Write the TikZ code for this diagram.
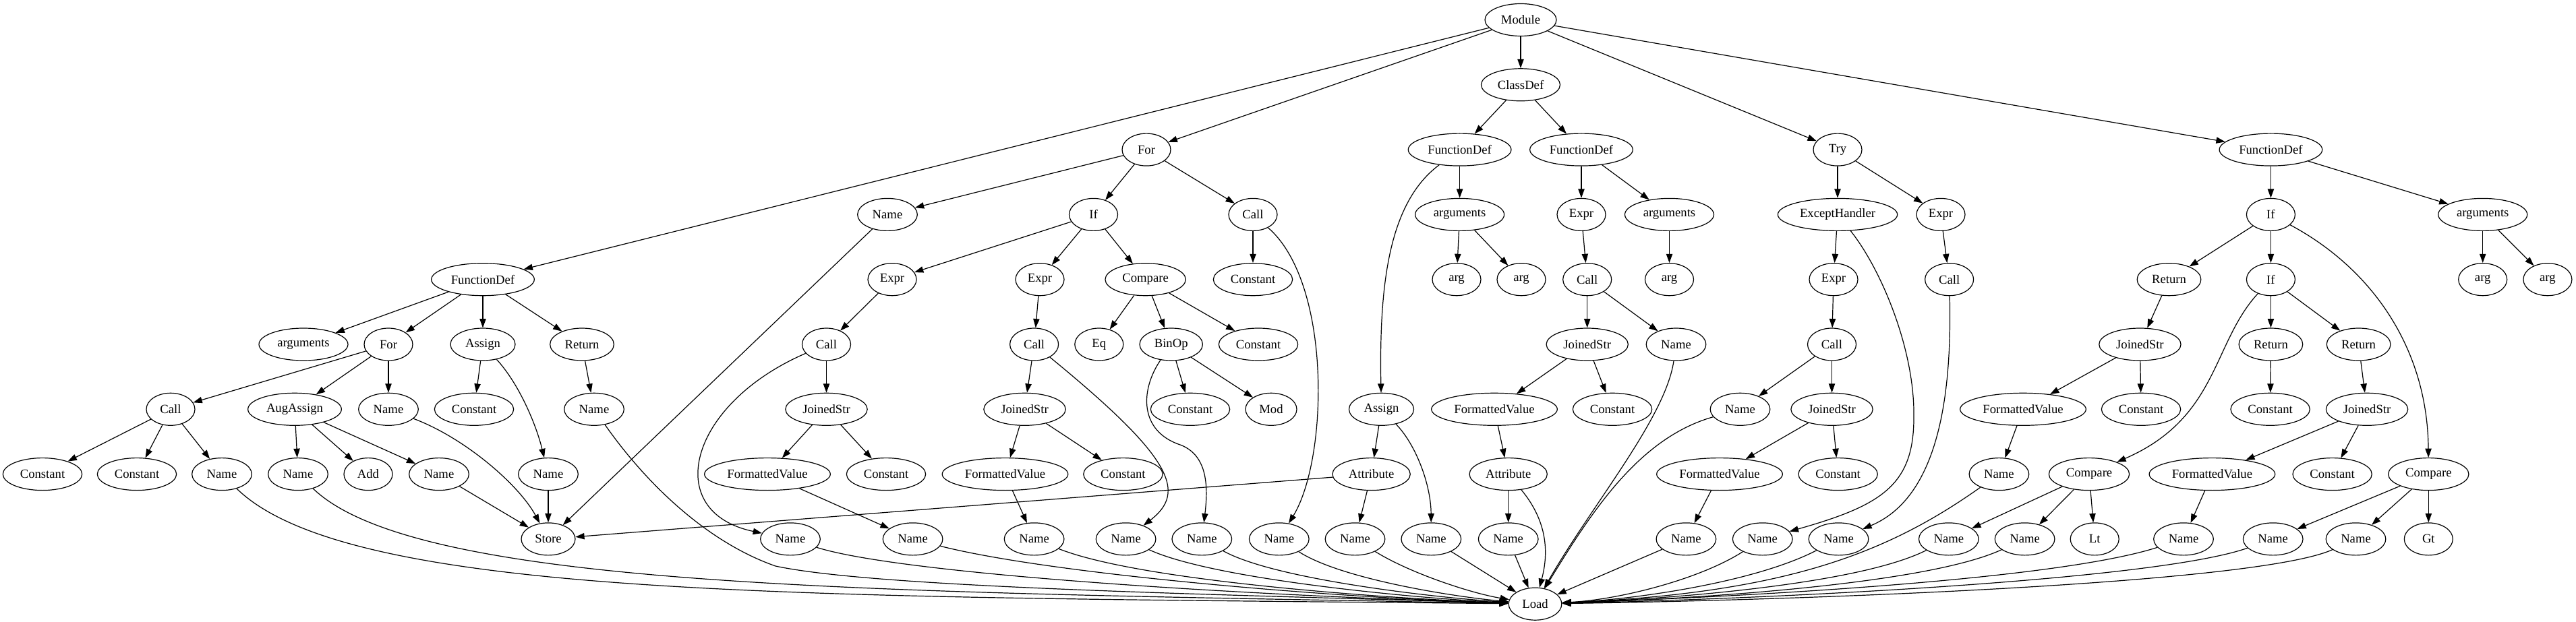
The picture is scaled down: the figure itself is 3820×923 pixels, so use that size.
\documentclass[tikz,border=0pt]{standalone}
\usepackage{fontspec}
\setmainfont{Liberation Serif}
\usetikzlibrary{shapes.geometric,arrows.meta}
\begin{document}
\begin{tikzpicture}[x=0.75pt,y=-0.75pt,
  nd/.style={draw, ellipse, line width=0.9pt, minimum height=36pt, inner sep=0pt, minimum width=#1, font=\fontsize{14pt}{16pt}\selectfont},
  nd/.default=54pt,
  e/.style={line width=0.9pt, -{Triangle[length=10pt,width=7pt]}}]
\useasboundingbox (0,0) rectangle (3820,923);
% rank 0-2
\node[nd=79.5pt] (module) at (2255,29.5) {Module};
\node[nd=87.75pt] (cls) at (2255,125.8) {ClassDef};
\node[nd] (for1) at (1700,222.1) {For};
\node[nd=114.5pt] (fdA) at (2164.6,222.1) {FunctionDef};
\node[nd=114.5pt] (fdB) at (2345,222.1) {FunctionDef};
\node[nd] (try) at (2725,222.1) {Try};
\node[nd=114.5pt] (fdC) at (3367.4,222.1) {FunctionDef};
% rank 3
\node[nd=66.5pt] (nmA) at (1316,318.4) {Name};
\node[nd] (if1) at (1621.5,318.4) {If};
\node[nd] (call1) at (1858,318.4) {Call};
\node[nd=99pt] (argsA) at (2164.6,318.4) {arguments};
\node[nd] (exprB) at (2345,318.4) {Expr};
\node[nd=99pt] (argsB) at (2475.5,318.4) {arguments};
\node[nd=133pt] (eh) at (2725,318.4) {ExceptHandler};
\node[nd] (exprT) at (2878,318.4) {Expr};
\node[nd] (ifC) at (3367.4,318.4) {If};
\node[nd=99pt] (argsC) at (3681.7,318.4) {arguments};
% rank 4
\node[nd=114.5pt] (fd0) at (716,414.7) {FunctionDef};
\node[nd] (exprA1) at (1323,414.7) {Expr};
\node[nd] (exprA2) at (1542,414.7) {Expr};
\node[nd=89.5pt] (cmpA) at (1698.6,414.7) {Compare};
\node[nd=88pt] (constC1) at (1858,414.7) {Constant};
\node[nd] (argA1) at (2160,414.7) {arg};
\node[nd] (argA2) at (2256,414.7) {arg};
\node[nd] (callB) at (2353.7,414.7) {Call};
\node[nd] (argB) at (2475.5,414.7) {arg};
\node[nd] (exprE) at (2719,414.7) {Expr};
\node[nd] (callT) at (2890.6,414.7) {Call};
\node[nd=71pt] (retC1) at (3216.5,414.7) {Return};
\node[nd] (ifC2) at (3367.4,414.7) {If};
\node[nd] (argC1) at (3681.7,414.7) {arg};
\node[nd] (argC2) at (3777.9,414.7) {arg};
% rank 5
\node[nd=99pt] (args0) at (450,511) {arguments};
\node[nd] (for0) at (576,511) {For};
\node[nd=72pt] (asg0) at (716,511) {Assign};
\node[nd=71pt] (ret0) at (863,511) {Return};
\node[nd] (callA1) at (1225.5,511) {Call};
\node[nd] (callA2) at (1533.6,511) {Call};
\node[nd] (eq) at (1629.8,511) {Eq};
\node[nd=70pt] (binop) at (1736.7,511) {BinOp};
\node[nd=88pt] (constA3) at (1866,511) {Constant};
\node[nd=91pt] (jsB) at (2353.7,511) {JoinedStr};
\node[nd=66.5pt] (nmB) at (2485.5,511) {Name};
\node[nd] (callE) at (2716.5,511) {Call};
\node[nd=91pt] (jsC1) at (3173.4,511) {JoinedStr};
\node[nd=71pt] (retC2) at (3367.4,511) {Return};
\node[nd=71pt] (retC3) at (3497.6,511) {Return};
% rank 6
\node[nd] (call0) at (253,607.3) {Call};
\node[nd=104pt] (aug) at (437,607.3) {AugAssign};
\node[nd=66.5pt] (nm0) at (576,607.3) {Name};
\node[nd=88pt] (const0) at (703,607.3) {Constant};
\node[nd=66.5pt] (nmR) at (881,607.3) {Name};
\node[nd=91pt] (jsA1) at (1225.5,607.3) {JoinedStr};
\node[nd=91pt] (jsA2) at (1519.5,607.3) {JoinedStr};
\node[nd=88pt] (constBin) at (1765,607.3) {Constant};
\node[nd=57pt] (modop) at (1885,607.3) {Mod};
\node[nd=72pt] (asgA) at (2048.5,607.3) {Assign};
\node[nd=140pt] (fvB) at (2216,607.3) {FormattedValue};
\node[nd=88pt] (constB) at (2391,607.3) {Constant};
\node[nd=66.5pt] (nmE) at (2580.5,607.3) {Name};
\node[nd=91pt] (jsE) at (2716.5,607.3) {JoinedStr};
\node[nd=140pt] (fvC1) at (3000,607.3) {FormattedValue};
\node[nd=88pt] (constC1b) at (3175,607.3) {Constant};
\node[nd=88pt] (constC2) at (3366.6,607.3) {Constant};
\node[nd=91pt] (jsC3) at (3510,607.3) {JoinedStr};
% rank 7
\node[nd=88pt] (c01) at (63,703.6) {Constant};
\node[nd=88pt] (c02) at (203,703.6) {Constant};
\node[nd=66.5pt] (nmc) at (329,703.6) {Name};
\node[nd=66.5pt] (nmaug1) at (442,703.6) {Name};
\node[nd] (add) at (546,703.6) {Add};
\node[nd=66.5pt] (nmaug2) at (651,703.6) {Name};
\node[nd=66.5pt] (nmasg) at (813,703.6) {Name};
\node[nd=140pt] (fvA1) at (1138,703.6) {FormattedValue};
\node[nd=88pt] (constA1) at (1314,703.6) {Constant};
\node[nd=140pt] (fvA2) at (1490.5,703.6) {FormattedValue};
\node[nd=88pt] (constA2) at (1665.4,703.6) {Constant};
\node[nd=86.5pt] (attrA) at (2033.6,703.6) {Attribute};
\node[nd=86.5pt] (attrB) at (2236.7,703.6) {Attribute};
\node[nd=140pt] (fvE) at (2550,703.6) {FormattedValue};
\node[nd=88pt] (constE) at (2725.6,703.6) {Constant};
\node[nd=66.5pt] (nmC1) at (2964.4,703.6) {Name};
\node[nd=89.5pt] (cmpC1) at (3098,703.6) {Compare};
\node[nd=140pt] (fvC3) at (3280.4,703.6) {FormattedValue};
\node[nd=88pt] (constC3) at (3458.6,703.6) {Constant};
\node[nd=89.5pt] (cmpC2) at (3601.3,703.6) {Compare};
% rank 8
\node[nd=60pt] (store) at (813,799.9) {Store};
\node[nd=66.5pt] (nmA1c) at (1172,799.9) {Name};
\node[nd=66.5pt] (nmA1f) at (1353.6,799.9) {Name};
\node[nd=66.5pt] (nmA2f) at (1533.6,799.9) {Name};
\node[nd=66.5pt] (nmA2c) at (1669.6,799.9) {Name};
\node[nd=66.5pt] (nmbin) at (1782.3,799.9) {Name};
\node[nd=66.5pt] (nmcall1) at (1896.8,799.9) {Name};
\node[nd=66.5pt] (nmattrA) at (2009.5,799.9) {Name};
\node[nd=66.5pt] (nmasgA) at (2122.3,799.9) {Name};
\node[nd=66.5pt] (nmattrB) at (2236.7,799.9) {Name};
\node[nd=66.5pt] (nmfvE) at (2500.4,799.9) {Name};
\node[nd=66.5pt] (nmeh) at (2613.7,799.9) {Name};
\node[nd=66.5pt] (nmcallT) at (2726.5,799.9) {Name};
\node[nd=66.5pt] (nmcmpa) at (2889.8,799.9) {Name};
\node[nd=66.5pt] (nmcmpb) at (3002.6,799.9) {Name};
\node[nd] (lt) at (3106.2,799.9) {Lt};
\node[nd=66.5pt] (nmfvC3) at (3238,799.9) {Name};
\node[nd=66.5pt] (nmcmpc) at (3370.7,799.9) {Name};
\node[nd=66.5pt] (nmcmpd) at (3493.5,799.9) {Name};
\node[nd] (gt) at (3601.3,799.9) {Gt};
% rank 9
\node[nd=59pt] (load) at (2276.5,896.2) {Load};

% straight edges
\foreach \a/\b in {module/fd0, module/for1, module/cls, module/try, module/fdC,
  fd0/args0, fd0/for0, fd0/asg0, fd0/ret0,
  for0/call0, for0/aug, for0/nm0,
  call0/c01, call0/c02, call0/nmc,
  aug/nmaug1, aug/add, aug/nmaug2,
  asg0/const0, nmasg/store, nmaug2/store, ret0/nmR,
  for1/nmA, for1/if1, for1/call1, nmA/store,
  if1/exprA1, if1/exprA2, if1/cmpA,
  exprA1/callA1, callA1/jsA1, jsA1/fvA1, jsA1/constA1, fvA1/nmA1f,
  exprA2/callA2, callA2/jsA2, jsA2/fvA2, jsA2/constA2, fvA2/nmA2f,
  cmpA/eq, cmpA/binop, cmpA/constA3, binop/constBin, binop/modop,
  call1/constC1,
  cls/fdA, cls/fdB, fdA/argsA, argsA/argA1, argsA/argA2,
  asgA/attrA, attrA/store, attrA/nmattrA,
  fdB/exprB, fdB/argsB, argsB/argB, exprB/callB, callB/jsB, callB/nmB,
  jsB/fvB, jsB/constB, fvB/attrB, attrB/nmattrB,
  try/eh, try/exprT, eh/exprE, exprE/callE, callE/nmE, callE/jsE,
  jsE/fvE, jsE/constE, fvE/nmfvE, exprT/callT,
  fdC/ifC, fdC/argsC, argsC/argC1, argsC/argC2,
  ifC/retC1, ifC/ifC2, retC1/jsC1, jsC1/fvC1, jsC1/constC1b, fvC1/nmC1,
  ifC2/retC2, ifC2/retC3, retC2/constC2, retC3/jsC3, jsC3/fvC3, jsC3/constC3,
  fvC3/nmfvC3, cmpC1/nmcmpa, cmpC1/nmcmpb, cmpC1/lt,
  cmpC2/nmcmpc, cmpC2/nmcmpd, cmpC2/gt,
  nmasgA/load, nmattrB/load, nmfvE/load}
  \draw[e] (\a) -- (\b);

% curved edges
\draw[e] (nm0) .. controls (690,650) and (770,720) .. (store);
\draw[e] (asg0) .. controls (770,570) and (795,630) .. (nmasg);
\draw[e] (callA1) .. controls (1020,600) and (980,760) .. (nmA1c);
\draw[e] (callA2) .. controls (1740,680) and (1760,730) .. (nmA2c);
\draw[e] (binop) .. controls (1690,580) and (1690,640) .. (1750,660) .. controls (1790,675) and (1792,720) .. (nmbin);
\draw[e] (call1) .. controls (1975,420) and (1970,680) .. (nmcall1);
\draw[e] (fdA) .. controls (2060,300) and (2045,420) .. (asgA);
\draw[e] (asgA) .. controls (2100,660) and (2122,720) .. (nmasgA);
\draw[e] (eh) .. controls (2790,400) and (2840,520) .. (2838,620) .. controls (2838,720) and (2790,750) .. (nmeh);
\draw[e] (callT) .. controls (2895,600) and (2870,740) .. (nmcallT);
\draw[e] (ifC2) .. controls (3280,510) and (3290,620) .. (cmpC1);
\draw[e] (ifC) .. controls (3520,400) and (3600,520) .. (cmpC2);

% edges to Load
\draw[e] (nmc) .. controls (520,890) and (1200,885) .. (load);
\draw[e] (nmaug1) .. controls (620,875) and (1300,878) .. (load);
\draw[e] (nmR) .. controls (960,720) and (1050,805) .. (1150,840) .. controls (1300,872) and (1800,882) .. (load);
\draw[e] (nmA1c) .. controls (1330,850) and (1800,882) .. (load);
\draw[e] (nmA1f) .. controls (1550,850) and (1950,886) .. (load);
\draw[e] (nmA2f) .. controls (1690,862) and (2050,888) .. (load);
\draw[e] (nmA2c) .. controls (1800,860) and (2100,888) .. (load);
\draw[e] (nmbin) .. controls (1890,860) and (2130,887) .. (load);
\draw[e] (nmcall1) .. controls (1990,860) and (2160,886) .. (load);
\draw[e] (nmattrA) .. controls (2090,850) and (2180,880) .. (load);
\draw[e] (attrB) .. controls (2300,780) and (2294,830) .. (load);
\draw[e] (nmB) .. controls (2470,620) and (2360,750) .. (load);
\draw[e] (nmE) .. controls (2430,650) and (2360,760) .. (load);
\draw[e] (nmeh) .. controls (2520,860) and (2400,890) .. (load);
\draw[e] (nmcallT) .. controls (2600,865) and (2420,890) .. (load);
\draw[e] (nmC1) .. controls (2800,820) and (2650,880) .. (load);
\draw[e] (nmcmpa) .. controls (2750,870) and (2450,890) .. (load);
\draw[e] (nmcmpb) .. controls (2850,870) and (2480,890) .. (load);
\draw[e] (nmfvC3) .. controls (3050,860) and (2600,885) .. (load);
\draw[e] (nmcmpc) .. controls (3200,860) and (2650,888) .. (load);
\draw[e] (nmcmpd) .. controls (3350,865) and (2700,890) .. (load);
\end{tikzpicture}
\end{document}
